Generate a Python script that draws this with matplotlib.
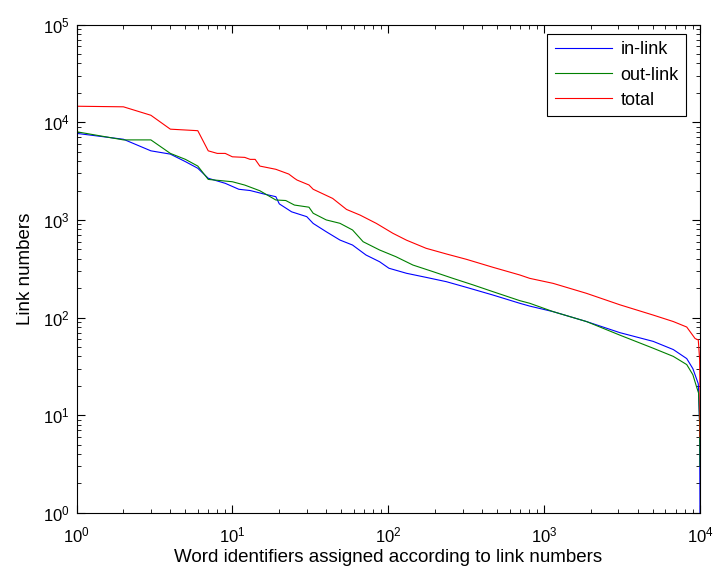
import matplotlib
matplotlib.use("Agg")
import matplotlib.pyplot as plt

# rank-ordered link counts
rank_in = [1, 2, 3, 4, 5, 6, 7, 9, 11, 13, 16, 19, 20, 24, 30, 33, 40, 49, 59, 72,
           88, 101, 131, 175, 236, 317, 470, 698, 809, 1142, 1871, 3067, 5012, 6745,
           8220, 9000, 9750, 9950, 10000]
in_link = [7700, 6700, 5100, 4720, 3950, 3380, 2670, 2370, 2060, 2000, 1840, 1730,
           1460, 1210, 1080, 920, 757, 622, 553, 437, 373, 320, 284, 258, 233, 204,
           170, 140, 131, 115, 91, 70, 57, 47, 38, 30, 21, 8, 1]

rank_out = [1, 2, 3, 4, 5, 6, 7, 10, 12, 15, 19, 22, 25, 31, 33, 40, 49, 59, 69, 88,
            112, 144, 194, 260, 350, 470, 698, 809, 1142, 1871, 3067, 5012, 6745,
            8220, 9000, 9500, 9800, 9950, 10000]
out_link = [8000, 6600, 6600, 4800, 4170, 3560, 2600, 2460, 2275, 1990, 1600, 1580,
            1420, 1350, 1170, 1000, 923, 789, 598, 492, 420, 345, 295, 252, 216, 184,
            149, 140, 115, 91, 66, 48.5, 40, 33, 26, 19.6, 16.8, 8, 3]

rank_total = [1, 2, 3, 4, 6, 7, 8, 9, 10, 12, 13, 14, 15, 19, 23, 25, 26, 31, 33, 44,
              54, 66, 84, 107, 131, 175, 236, 317, 470, 698, 809, 1142, 1871, 3067,
              5012, 6745, 8220, 9300, 9750, 9950, 9990, 10000]
total = [14600, 14400, 11800, 8500, 8200, 5100, 4800, 4800, 4430, 4370, 4170, 4170,
         3560, 3300, 2950, 2670, 2560, 2280, 2060, 1660, 1280, 1120, 920, 730, 620,
         512, 448, 395, 327, 273, 252, 224, 177, 135, 106, 91, 80, 61, 59, 37, 20, 6]

plt.rcParams['font.family'] = ['Liberation Sans', 'DejaVu Sans']
plt.rcParams['font.size'] = 12

fig = plt.figure(figsize=(7.15, 5.73), dpi=100)
ax = fig.add_axes([0.107, 0.105, 0.872, 0.852])

ax.plot(rank_in, in_link, color=(0, 0, 1), lw=0.8, label='in-link')
ax.plot(rank_out, out_link, color=(0, 0.5, 0), lw=0.8, label='out-link')
ax.plot(rank_total, total, color=(1, 0, 0), lw=0.8, label='total')

ax.set_xscale('log')
ax.set_yscale('log')
ax.set_xlim(1, 1e4)
ax.set_ylim(1, 1e5)

ax.tick_params(which='both', direction='in', top=True, right=True, labelsize=12)
ax.tick_params(which='major', length=6, width=0.8)
ax.tick_params(which='minor', length=3, width=0.6)
ax.tick_params(axis='x', which='major', pad=9)
ax.tick_params(axis='y', which='major', pad=5)
for s in ax.spines.values():
    s.set_linewidth(0.8)

ax.set_xlabel('Word identifiers assigned according to link numbers', fontsize=13.5,
              labelpad=3)
ax.set_ylabel('Link numbers', fontsize=13.5, labelpad=6)

leg = ax.legend(loc='upper right', bbox_to_anchor=(0.9775, 0.9805), fancybox=False,
                edgecolor='black', framealpha=1, fontsize=13, handlelength=3.2,
                handletextpad=0.45, borderpad=0.4, borderaxespad=0, labelspacing=0.45)
leg.get_frame().set_linewidth(0.8)

fig.savefig('out.png', dpi=100)
